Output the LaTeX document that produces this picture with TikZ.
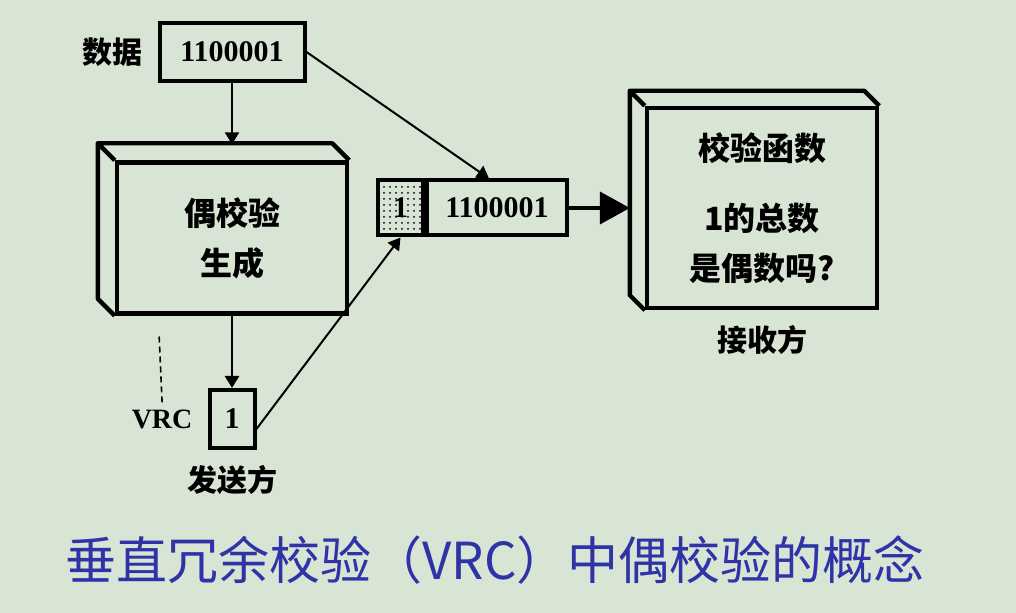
\documentclass[tikz,border=0pt]{standalone}
\usepackage{fontspec}
\setmainfont{Liberation Serif}
\newfontfamily\cjk{Noto Sans CJK SC}
\usetikzlibrary{calc,positioning,arrows.meta,patterns}
\definecolor{paper}{RGB}{216,229,212}
\definecolor{titleblue}{RGB}{46,52,168}

\begin{document}
\begin{tikzpicture}[
x=0.5pt,y=-0.5pt,
>={Triangle[length=6pt,width=7pt]},
cell/.style={
	draw,
	line width=2pt,
	inner sep=0pt,
	font=\fontsize{15}{15}\selectfont\bfseries
},
block/.style={
	draw,
	line width=2.2pt,
	minimum width=115pt,
	align=center,
	font=\cjk\fontsize{16}{25}\selectfont\bfseries
},
link/.style={
	->,
	line width=1.3pt
},
side/.style={
	font=\cjk\fontsize{15}{15}\selectfont\bfseries
},
every label/.style={side},
label distance=4pt
]
\fill[paper] (0,0) rectangle (1016,613);

% sender
\node[cell,minimum width=72.5pt,minimum height=29pt,label=left:数据] (data) at (232,52) {1100001};
\node[block,minimum height=75.5pt] (gen) at (232,238) {偶校验\\生成};
\node[cell,minimum width=22.5pt,minimum height=29pt,label=below:发送方,
	label={[name=vrcname,font=\fontsize{14}{14}\selectfont\bfseries]left:VRC}] (vrc) at (232,419) {1};
\coordinate (tick) at (159,333);

% frame on the line
\node[cell,minimum width=22.5pt,minimum height=27.5pt,pattern=dots] (bit) at (400.5,208) {1};
\node[cell,minimum width=70pt,minimum height=27.5pt,anchor=west] (payload) at (bit.east) {1100001};

% receiver
\node[block,minimum height=100pt,label=below:接收方] (chk) at (762,208) {校验函数\\[10pt]1的总数\\是偶数吗?};

% back edges of the blocks
\foreach \b/\d in {gen/17,chk/15}
\draw[line width=2.2pt,line join=round]
	(\b.north west) -- ++(-\d,-\d)
	(\b.south west) -- ++(-\d,-\d) -- ($(\b.north west)+(-\d,-\d)$)
	-- ($(\b.north east)+(-\d,-\d)$) -- (\b.north east);

\draw[link] (data) -- ([yshift=8pt]gen.north);
\draw[link] (gen) -- (vrc);
\draw[link,line width=1pt] ([yshift=-5pt]vrc.east) -- (bit.south);
\draw[link,line width=1pt] (data.east) -- ([xshift=-4pt]payload.north);
\draw[line width=2pt,-{Triangle[length=15pt,width=16pt]}] (payload) -- ($(chk.west)+(-15,0)$);
\draw[densely dashed,line width=0.8pt] (vrcname.north) -- (tick);

\node[font=\cjk\fontsize{25.5}{25.5}\selectfont,text=titleblue] (title) at (495,560) {垂直冗余校验（VRC）中偶校验的概念};
\end{tikzpicture}
\end{document}
